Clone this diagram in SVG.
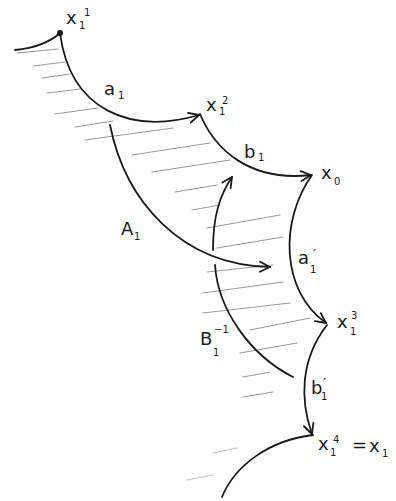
<svg xmlns="http://www.w3.org/2000/svg" width="396" height="501" viewBox="0 0 396 501">
<style>
.c{fill:none;stroke:#1a1a1a;stroke-width:1.8;stroke-linecap:round}
.h{stroke:#9a9a9a;stroke-width:1.2;stroke-linecap:round}
.t{font-family:"DejaVu Sans",sans-serif;fill:#1a1a1a}
.m{font-size:18px}
.s{font-size:10px}
.p{font-size:14px}
</style>
<defs>
<marker id="ar" viewBox="-12 -7 14 14" markerWidth="14" markerHeight="14" refX="0" refY="0" orient="auto" markerUnits="userSpaceOnUse">
<path d="M-10,-5 L0,0 L-10,5" fill="none" stroke="#1a1a1a" stroke-width="1.8" stroke-linecap="round" stroke-linejoin="round"/>
</marker>
</defs>
<rect width="396" height="501" fill="#ffffff"/>
<g id="hatching">
<line class="h" x1="17" y1="53" x2="58" y2="49"/>
<line class="h" x1="33" y1="66" x2="65" y2="62"/>
<line class="h" x1="42" y1="78" x2="70" y2="74"/>
<line class="h" x1="47" y1="93" x2="80" y2="89"/>
<line class="h" x1="55" y1="114" x2="98" y2="108"/>
<line class="h" x1="75" y1="127" x2="113" y2="121"/>
<line class="h" x1="85" y1="140" x2="173" y2="128"/>
<line class="h" x1="132" y1="155" x2="210" y2="143"/>
<line class="h" x1="152" y1="172" x2="230" y2="160"/>
<line class="h" x1="175" y1="192" x2="217" y2="185"/>
<line class="h" x1="192" y1="210" x2="220" y2="205"/>
<line class="h" x1="207" y1="228" x2="280" y2="215"/>
<line class="h" x1="217" y1="248" x2="283" y2="237"/>
<line class="h" x1="207" y1="272" x2="273" y2="265"/>
<line class="h" x1="203" y1="293" x2="283" y2="282"/>
<line class="h" x1="203" y1="313" x2="290" y2="303"/>
<line class="h" x1="250" y1="330" x2="310" y2="318"/>
<line class="h" x1="240" y1="353" x2="297" y2="343"/>
<line class="h" x1="243" y1="377" x2="270" y2="372"/>
<line class="h" x1="243" y1="397" x2="273" y2="392"/>
<line class="h" x1="213" y1="453" x2="237" y2="448" opacity="0.6"/>
<line class="h" x1="187" y1="480" x2="213" y2="475" opacity="0.6"/>
</g>
<g id="connectors">
<path class="c" d="M15,50 C35,48 50,42 60,33"/>
<path class="c" d="M60,33 C70,110 130,135 199,115" marker-end="url(#ar)"/>
<path class="c" d="M200,114 C215,150 250,182 311,175" marker-end="url(#ar)"/>
<path class="c" d="M312,175 C280,220 280,290 326,323" marker-end="url(#ar)"/>
<path class="c" d="M327,325 C300,360 300,400 312,434" marker-end="url(#ar)"/>
<path class="c" d="M313,435 C270,440 235,465 222,497"/>
<path class="c" d="M110,125 C125,200 180,265 270,267" marker-end="url(#ar)"/>
<path class="c" d="M213,250 C213,215 220,195 232,177" marker-end="url(#ar)"/>
<path class="c" d="M215,265 C218,310 250,355 293,377"/>
</g>
<g id="x1_1">
<circle cx="60" cy="33" r="3" fill="#1a1a1a"/>
<text class="t m" x="66" y="24">x</text><text class="t s" x="79" y="29">1</text><text class="t s" x="84" y="16">1</text>
</g>
<g id="a1"><text class="t m" x="104" y="95">a</text><text class="t s" x="118" y="99">1</text></g>
<g id="x1_2"><text class="t m" x="206" y="111">x</text><text class="t s" x="219" y="115">1</text><text class="t s" x="222" y="104">2</text></g>
<g id="b1"><text class="t m" x="244" y="158">b</text><text class="t s" x="258" y="161">1</text></g>
<g id="x0"><text class="t m" x="321" y="179">x</text><text class="t s" x="334" y="185">0</text></g>
<g id="A1"><text class="t m" x="121" y="235">A</text><text class="t s" x="134" y="240">1</text></g>
<g id="a1p"><text class="t m" x="298" y="264">a</text><text class="t s" x="310" y="273">1</text><text class="t p" x="313" y="259">′</text></g>
<g id="x1_3"><text class="t m" x="337" y="328">x</text><text class="t s" x="350" y="335">1</text><text class="t s" x="351" y="319">3</text></g>
<g id="B1inv"><text class="t m" x="200" y="345">B</text><text class="t s" x="213" y="356">1</text><text class="t s" x="214" y="333">−1</text></g>
<g id="b1p"><text class="t m" x="311" y="394">b</text><text class="t s" x="321" y="400">1</text><text class="t p" x="323" y="388">′</text></g>
<g id="x1_4"><text class="t m" x="318" y="450">x</text><text class="t s" x="330" y="456">1</text><text class="t s" x="333" y="443">4</text><text class="t m" x="352" y="451">=</text><text class="t m" x="369" y="452">x</text><text class="t s" x="382" y="457">1</text></g>
</svg>
